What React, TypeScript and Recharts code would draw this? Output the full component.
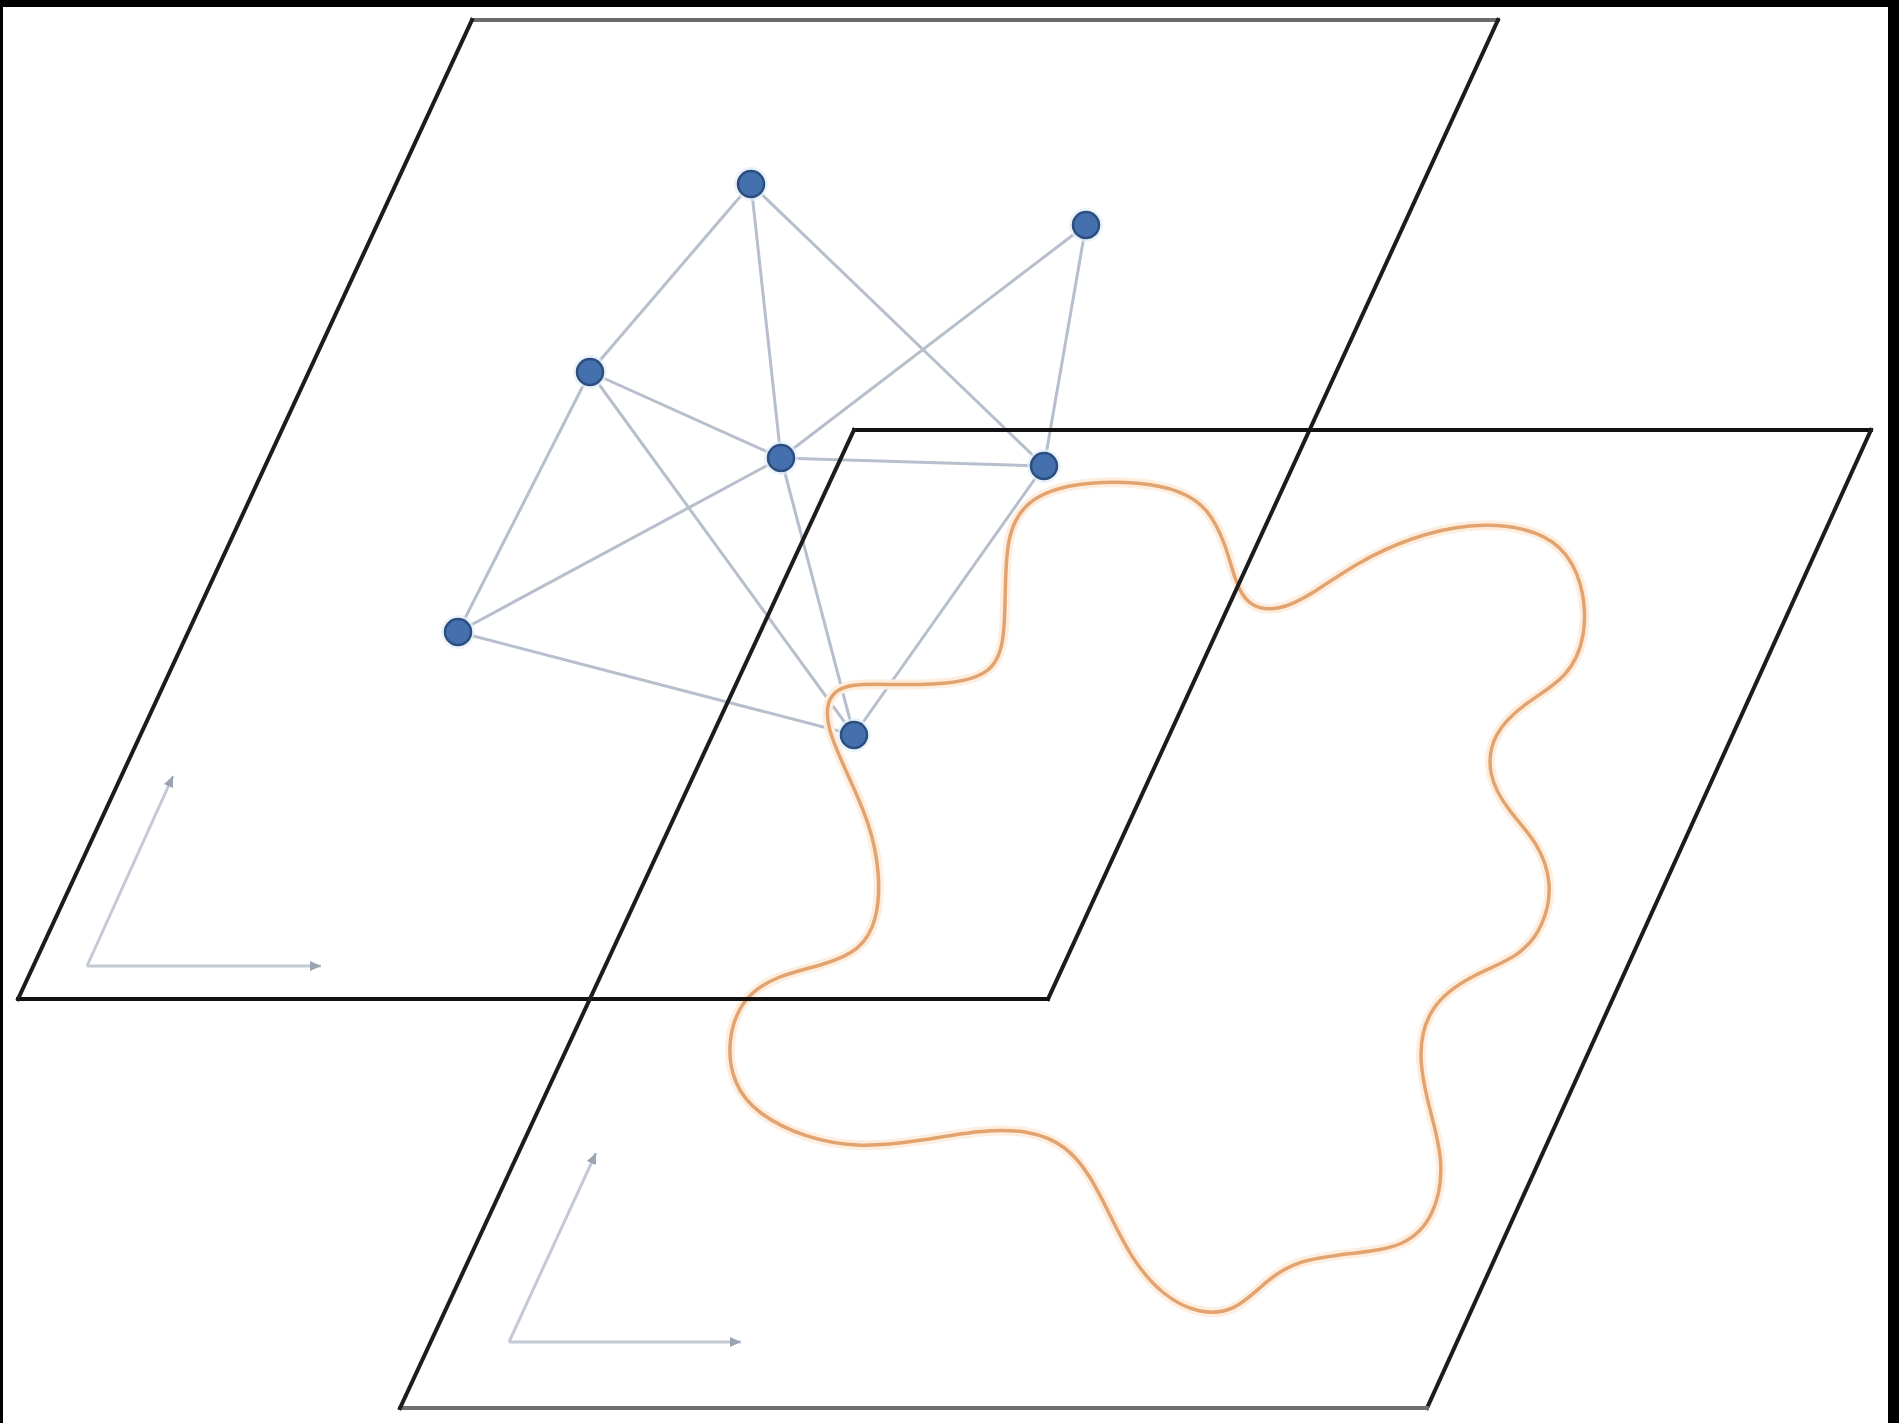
import { ComposedChart, Line, Scatter, XAxis, YAxis } from "recharts";

const W = 1899;
const H = 1423;

// graph nodes (picture coordinates, y grows downward)
const nodeX = [751, 1086, 590, 781, 1044, 458, 854];
const nodeY = [184, 225, 372, 458, 466, 632, 735];

// graph edges as pairs of node indexes
const edgeFrom = [0, 0, 0, 1, 1, 2, 2, 2, 3, 3, 3, 4, 5];
const edgeTo = [2, 3, 4, 3, 4, 3, 5, 6, 5, 4, 6, 6, 6];

// the two planes, corners clockwise from top-left
const upperPlaneX = [472, 1498, 1048, 18];
const upperPlaneY = [20, 20, 999, 999];
const lowerPlaneX = [854, 1871, 1427, 400];
const lowerPlaneY = [430, 430, 1408, 1408];

// small axis arrows in each plane: origin, tip of slanted axis, tip of horizontal axis
const arrowOriginX = [87, 509];
const arrowOriginY = [966, 1342];
const arrowUpX = [173, 596];
const arrowUpY = [776, 1153];
const arrowRightX = [321, 741];
const arrowRightY = [966, 1342];

// orange closed contour on the lower plane
const contourX = [
  1005, 1005, 993, 957, 896, 848, 827, 826, 848, 870, 880, 878, 860, 824, 775, 741,
  727, 733, 757, 805, 860, 920, 981, 1029, 1066, 1090, 1108, 1132, 1163, 1199, 1235,
  1266, 1296, 1356, 1405, 1435, 1445, 1429, 1417, 1429, 1471, 1520, 1544, 1553, 1538,
  1508, 1487, 1492, 1526, 1568, 1587, 1583, 1562, 1526, 1471, 1411, 1356, 1314, 1278,
  1247, 1235, 1226, 1209, 1181, 1138, 1090, 1048, 1023, 1008,
];
const contourY = [
  581, 642, 672, 684, 685, 683, 696, 727, 775, 824, 872, 920, 951, 965, 976, 999,
  1042, 1084, 1114, 1138, 1148, 1141, 1130, 1130, 1145, 1175, 1211, 1260, 1296, 1314,
  1312, 1281, 1260, 1253, 1247, 1217, 1163, 1108, 1054, 1005, 975, 957, 926, 884, 842,
  811, 775, 733, 702, 678, 636, 581, 545, 527, 523, 537, 563, 593, 612, 606, 581, 545,
  509, 490, 482, 482, 490, 506, 533,
];

const upperSideColors = ["#6b6b6b", "#1c1c1c", "#111111", "#1c1c1c"];
const lowerSideColors = ["#111111", "#1c1c1c", "#6e6e6e", "#1c1c1c"];

const seg = (x1: number, y1: number, x2: number, y2: number) => [
  { x: x1, y: y1 },
  { x: x2, y: y2 },
];

const planeSides = (xs: number[], ys: number[], colors: string[]) =>
  xs.map((x, i) => ({
    data: seg(x, ys[i], xs[(i + 1) % 4], ys[(i + 1) % 4]),
    color: colors[i],
  }));

const sides = [
  ...planeSides(upperPlaneX, upperPlaneY, upperSideColors),
  ...planeSides(lowerPlaneX, lowerPlaneY, lowerSideColors),
];

const edges = edgeFrom.map((a, i) =>
  seg(nodeX[a], nodeY[a], nodeX[edgeTo[i]], nodeY[edgeTo[i]])
);

const arrows = arrowOriginX.flatMap((ox, i) => [
  seg(ox, arrowOriginY[i], arrowUpX[i], arrowUpY[i]),
  seg(ox, arrowOriginY[i], arrowRightX[i], arrowRightY[i]),
]);

const contour = contourX.map((x, i) => ({ x, y: contourY[i] }));
const nodes = nodeX.map((x, i) => ({ x, y: nodeY[i] }));

const arrowColor = "#c3cad6";

const ArrowHead = (props: any) => {
  const { cx, cy, index, payload } = props;
  if (index !== 1) return <g key={`a-${index}`} />;
  const start = arrows.find((a) => a[1] === payload)?.[0];
  const ang = start ? Math.atan2(payload.y - start.y, payload.x - start.x) : 0;
  const deg = (ang * 180) / Math.PI;
  return (
    <polygon
      key={`a-${index}`}
      points="0,0 -11,-5 -11,5"
      fill="#9aa3b2"
      transform={`translate(${cx},${cy}) rotate(${deg})`}
    />
  );
};

const NodeDot = (props: any) => {
  const { cx, cy } = props;
  return (
    <g>
      <circle cx={cx} cy={cy} r={17} fill="#e3eefa" opacity={0.7} />
      <circle cx={cx} cy={cy} r={13} fill="#4470ad" stroke="#2d4f80" strokeWidth={2.5} />
    </g>
  );
};

export default function App() {
  return (
    <div style={{ position: "absolute", left: 0, top: 0, width: W, height: H, background: "#000" }}>
      <div style={{ position: "absolute", left: 3, top: 7, width: 1885, height: H - 7, background: "#fff" }} />
      <div style={{ position: "absolute", left: 0, top: 0 }}>
        <ComposedChart width={W} height={H} margin={{ top: 0, right: 0, bottom: 0, left: 0 }}>
          <XAxis type="number" dataKey="x" domain={[0, W]} hide height={0} allowDataOverflow />
          <YAxis type="number" dataKey="y" domain={[0, H]} reversed hide width={0} allowDataOverflow />

          {arrows.map((d, i) => (
            <Line
              key={`arrow-${i}`}
              data={d}
              dataKey="y"
              type="linear"
              stroke={arrowColor}
              strokeWidth={3}
              dot={ArrowHead}
              activeDot={false}
              isAnimationActive={false}
            />
          ))}

          {edges.map((d, i) => (
            <Line
              key={`edge-${i}`}
              data={d}
              dataKey="y"
              type="linear"
              stroke="#b7bfcc"
              strokeWidth={3}
              dot={false}
              activeDot={false}
              isAnimationActive={false}
            />
          ))}

          <Line
            data={contour}
            dataKey="y"
            type="basisClosed"
            stroke="#fdeee0"
            strokeWidth={10}
            dot={false}
            activeDot={false}
            isAnimationActive={false}
          />
          <Line
            data={contour}
            dataKey="y"
            type="basisClosed"
            stroke="#e3a36f"
            strokeWidth={3.5}
            dot={false}
            activeDot={false}
            isAnimationActive={false}
          />

          {sides.map((s, i) => (
            <Line
              key={`side-${i}`}
              data={s.data}
              dataKey="y"
              type="linear"
              stroke={s.color}
              strokeWidth={4}
              strokeLinecap="square"
              dot={false}
              activeDot={false}
              isAnimationActive={false}
            />
          ))}

          <Scatter data={nodes} dataKey="y" shape={NodeDot} isAnimationActive={false} />
        </ComposedChart>
      </div>
    </div>
  );
}
